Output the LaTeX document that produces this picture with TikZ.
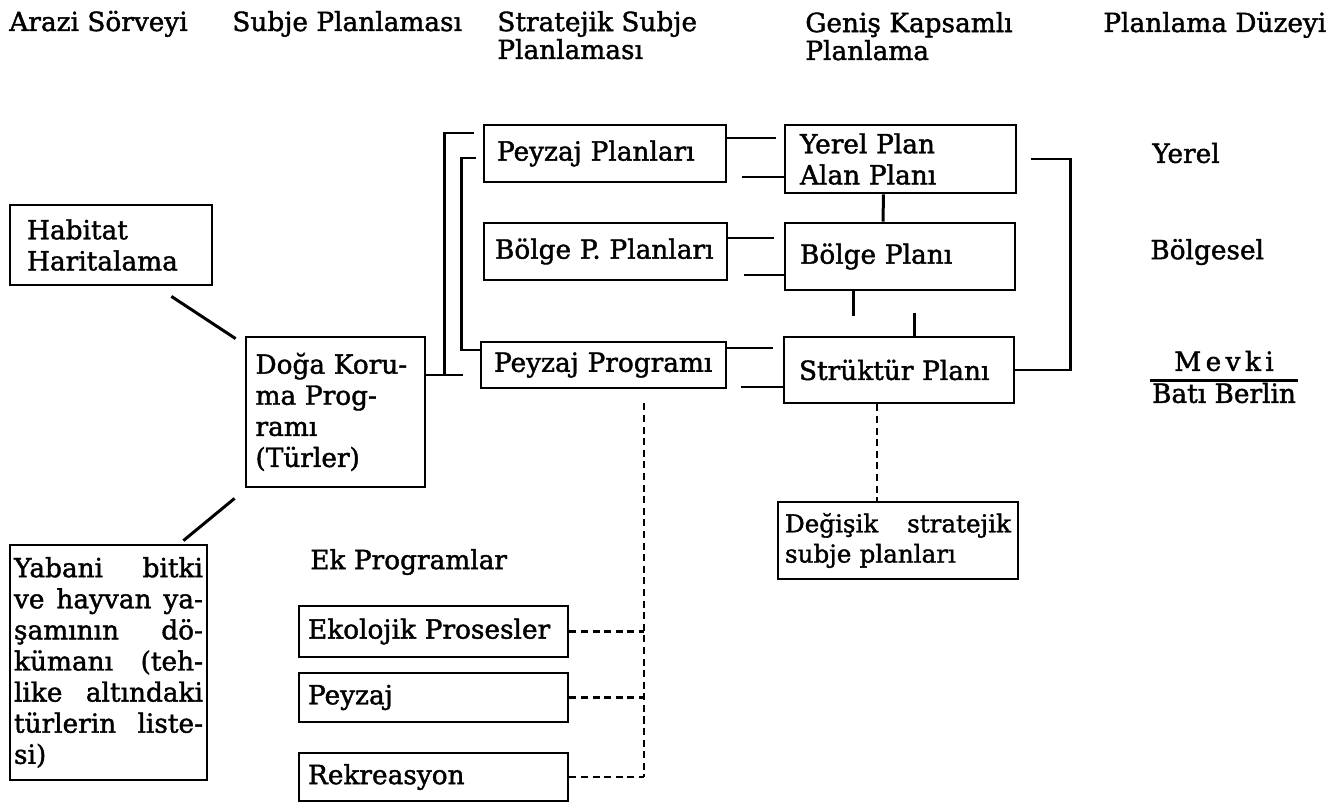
\documentclass[tikz,border=0pt]{standalone}
\usepackage{fontspec}
\setmainfont{DejaVu Serif}[FakeBold=1.5]
\newcommand\nohyph{\hyphenpenalty=10000\relax\exhyphenpenalty=10000\relax}
\usetikzlibrary{calc}

\begin{document}
\begin{tikzpicture}[x=0.02cm, y=-0.02cm,
    box/.style={draw, line width=1.6pt, align=left, inner ysep=0pt,
      font=\fontsize{15}{17.7}\selectfont\nohyph},
    head/.style={anchor=base west, align=left, inner sep=0pt,
      font=\fontsize{15}{15.9}\selectfont},
    lvl/.style={anchor=west, inner sep=0pt, font=\fontsize{15}{17.7}\selectfont},
    link/.style={line width=1.7pt},
    dlink/.style={line width=1.6pt, dash pattern=on 4pt off 2.6pt}]
    \useasboundingbox (0,0) rectangle (1343,807);

    % column headers
    \node[head] (h1) at (9,31) {Arazi Sörveyi};
    \node[head] (h2) at (232,31) {Subje Planlaması};
    \node[head] (h3) at (497,59) {Stratejik Subje\\Planlaması};
    \node[head] (h4) at (805,60) {Geniş Kapsamlı\\Planlama};
    \node[head] (h5) at (1103,32) {Planlama Düzeyi};

    % survey and species programme
    \node[box, text width=3.36cm, inner xsep=0.34cm, minimum height=1.6cm] (hab) at (111,245) {Habitat\\Haritalama};
    \node[box, text width=3.2cm, inner xsep=0.19cm, minimum height=3cm] (doga) at (335.5,412) {Doğa Koru-\\ma Prog-\\ramı\\(Türler)};
    \node[box, text width=3.78cm, inner xsep=0.08cm, minimum height=4.7cm] (yab) at (108.5,662.5)
        {Yabani\hfill bitki\\ve\hfill hayvan\hfill ya-\\şamının\hfill dö-\\kümanı\hfill (teh-\\like\hfill altındaki\\türlerin\hfill liste-\\si)};

    % strategic subject plans
    \node[box, text width=4.32cm, inner xsep=0.26cm, minimum height=1.14cm] (ppl) at (605,153.5) {Peyzaj Planları};
    \node[box, text width=4.66cm, inner xsep=0.1cm, minimum height=1.14cm] (bpp) at (605.5,251.5) {\hspace{0.12cm}Bölge P. Planları};
    \node[box, text width=4.38cm, inner xsep=0.26cm, minimum height=0.92cm] (ppr) at (603.5,365) {Peyzaj Programı};

    % comprehensive plans
    \node[box, text width=4.02cm, inner xsep=0.3cm, minimum height=1.36cm] (yer) at (900.5,159) {Yerel Plan\\Alan Planı};
    \node[box, text width=4.0cm, inner xsep=0.3cm, minimum height=1.34cm] (bol) at (900,256.5) {Bölge Planı};
    \node[box, text width=4.0cm, inner xsep=0.3cm, minimum height=1.32cm] (str) at (899,370) {Strüktür Planı};
    \node[box, text width=4.52cm, inner xsep=0.14cm, minimum height=1.54cm, font=\fontsize{14}{17.2}\selectfont\nohyph] (deg) at (898,540.5) {Değişik\hfill stratejik\\subje planları};

    % additional programmes
    \node[lvl] (ek) at (310,562) {Ek Programlar};
    \node[box, text width=5.02cm, inner xsep=0.18cm, minimum height=1.02cm] (ekp) at (433.5,631.5) {Ekolojik Prosesler};
    \node[box, text width=5.02cm, inner xsep=0.18cm, minimum height=0.98cm] (pey) at (433.5,697.5) {Peyzaj};
    \node[box, text width=5.02cm, inner xsep=0.18cm, minimum height=0.96cm] (rek) at (433.5,777) {Rekreasyon};

    % planning levels
    \node[lvl] (yerel) at (1152,153) {Yerel};
    \node[lvl] (bolg) at (1150,252) {Bölgesel};
    \node[lvl, anchor=center] (mevki) at (1224,361) {M\,e\,v\,k\,i};
    \node[lvl, anchor=center] (bati) at (1224,393) {Batı Berlin};
    \draw[link] ($(bati.north west)+(-2,-2)$) -- ($(bati.north east)+(2,-2)$);

    % left links
    \draw[link] ($(hab.south east)+(-42,10)$) -- ($(doga.north west)+(-9,3)$);
    \draw[link] ($(doga.south west)+(-10,10)$) -- ($(yab.north east)+(-25,-3)$);

    % brackets to strategic plans
    \draw[link] ($(doga.east)+(0,-37)$) -- ++(37,0);
    \draw[link] ($(doga.east)+(18,-37)$) |- ($(ppl.west)+(-9,-20.5)$);
    \draw[link] ($(ppl.west)+(-7,4.5)$) -- ++(-14,0) |- ($(ppr.west)+(0,-15)$);

    % two-way links between columns
    \draw[link] ($(ppl.east)+(0,-15.5)$) -- ++(49,0);
    \draw[link] ($(yer.west)+(0,18)$) -- ++(-42,0);
    \draw[link] ($(bpp.east)+(0,-13.5)$) -- ++(46,0);
    \draw[link] ($(bol.west)+(0,18.5)$) -- ++(-40,0);
    \draw[link] ($(ppr.east)+(0,-17)$) -- ++(46,0);
    \draw[link] ($(str.west)+(0,17)$) -- ++(-42,0);

    % links among comprehensive plans
    \draw[link] ($(yer.south)+(-17,0)$) -- ($(bol.north)+(-17,0)$);
    \draw[link] ($(bol.south)+(-47,0)$) -- ++(0,25);
    \draw[link] ($(str.north)+(15,0)$) -- ++(0,-23);
    \draw[link] ($(yer.east)+(14,0)$) -- ++(39,0) |- (str.east);

    % dashed links
    \draw[dlink] ($(str.south)+(-22,0)$) -- ($(deg.north)+(-21,0)$);
    \coordinate (dtop) at ($(ppr.south)+(40.5,14)$);
    \coordinate (dbot) at (dtop |- rek.east);
    \draw[dlink] (dtop) -- (dbot);
    \draw[dlink] (ekp.east) -- (ekp.east -| dtop);
    \draw[dlink] (pey.east) -- (pey.east -| dtop);
    \draw[dlink] (rek.east) -- (dbot);
\end{tikzpicture}
\end{document}
